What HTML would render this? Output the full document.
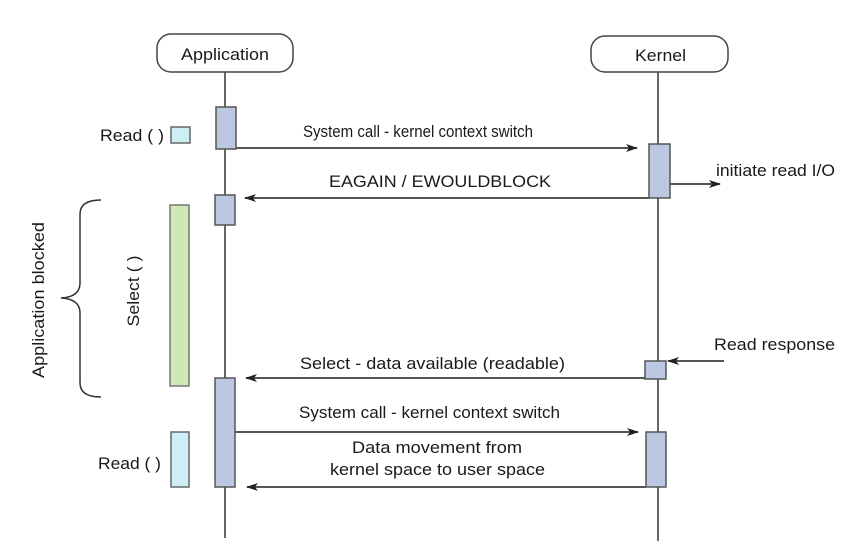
<!DOCTYPE html>
<html><head><meta charset="utf-8"><style>
html,body{margin:0;padding:0;background:#fff;}
svg{display:block;}
text{font-family:"Liberation Sans",Arial,sans-serif;font-size:16.5px;fill:#1a1a1a;}
</style></head><body>
<svg width="852" height="554" viewBox="0 0 852 554" xmlns="http://www.w3.org/2000/svg">
<defs>
<marker id="ah" markerWidth="12" markerHeight="8" refX="11" refY="4" orient="auto" markerUnits="userSpaceOnUse">
<path d="M0,0 L12,4 L0,8 L3,4 Z" fill="#222"/></marker>
</defs>
<g stroke="#666" stroke-width="2" fill="none">
<line x1="225" y1="72" x2="225" y2="538"/>
<line x1="658" y1="72" x2="658" y2="541"/>
</g>
<rect x="157" y="34" width="136" height="38" rx="14" fill="#fff" stroke="#444" stroke-width="1.5"/>
<text x="181" y="60" textLength="88" lengthAdjust="spacingAndGlyphs">Application</text>
<rect x="591" y="36" width="137" height="36" rx="14" fill="#fff" stroke="#444" stroke-width="1.5"/>
<text x="635" y="61" textLength="51" lengthAdjust="spacingAndGlyphs">Kernel</text>
<g fill="#bcc7e2" stroke="#555" stroke-width="1.5">
<rect x="216" y="107" width="20" height="42"/>
<rect x="649" y="144" width="21" height="54"/>
<rect x="215" y="195" width="20" height="30"/>
<rect x="645" y="361" width="21" height="18"/>
<rect x="215" y="378" width="20" height="109"/>
<rect x="646" y="432" width="20" height="55"/>
</g>
<rect x="171" y="127" width="19" height="16" fill="#cdeef5" stroke="#666" stroke-width="1.5"/>
<rect x="171" y="432" width="18" height="55" fill="#cdeef5" stroke="#666" stroke-width="1.5"/>
<rect x="170" y="205" width="19" height="181" fill="#cfe8b5" stroke="#777" stroke-width="1.5"/>
<g stroke="#555" stroke-width="2" fill="none">
<line x1="236" y1="148" x2="637" y2="148" marker-end="url(#ah)"/>
<line x1="649" y1="198" x2="245" y2="198" marker-end="url(#ah)"/>
<line x1="670" y1="184" x2="720" y2="184" marker-end="url(#ah)"/>
<line x1="724" y1="361" x2="668" y2="361" marker-end="url(#ah)"/>
<line x1="645" y1="378" x2="246" y2="378" marker-end="url(#ah)"/>
<line x1="235" y1="432" x2="638" y2="432" marker-end="url(#ah)"/>
<line x1="646" y1="487" x2="247" y2="487" marker-end="url(#ah)"/>
</g>
<path d="M101,200 Q80,200 80,214 L80,283 Q80,297 61,298 Q80,299 80,313 L80,383 Q80,397 101,397" stroke="#333" stroke-width="1.5" fill="none"/>
<text x="100" y="141" textLength="64" lengthAdjust="spacingAndGlyphs">Read ( )</text>
<text x="98" y="469" textLength="63" lengthAdjust="spacingAndGlyphs">Read ( )</text>
<text x="303" y="137" textLength="230" lengthAdjust="spacingAndGlyphs">System call - kernel context switch</text>
<text x="329" y="187" textLength="222" lengthAdjust="spacingAndGlyphs">EAGAIN / EWOULDBLOCK</text>
<text x="716" y="176" textLength="119" lengthAdjust="spacingAndGlyphs">initiate read I/O</text>
<text x="714" y="350" textLength="121" lengthAdjust="spacingAndGlyphs">Read response</text>
<text x="300" y="369" textLength="265" lengthAdjust="spacingAndGlyphs">Select - data available (readable)</text>
<text x="299" y="418" textLength="261" lengthAdjust="spacingAndGlyphs">System call - kernel context switch</text>
<text x="352" y="453" textLength="170" lengthAdjust="spacingAndGlyphs">Data movement from</text>
<text x="330" y="475" textLength="215" lengthAdjust="spacingAndGlyphs">kernel space to user space</text>
<text transform="translate(139,291) rotate(-90)" text-anchor="middle" textLength="71" lengthAdjust="spacingAndGlyphs">Select ( )</text>
<text transform="translate(44,300) rotate(-90)" text-anchor="middle" textLength="156" lengthAdjust="spacingAndGlyphs">Application blocked</text>
</svg>
</body></html>
